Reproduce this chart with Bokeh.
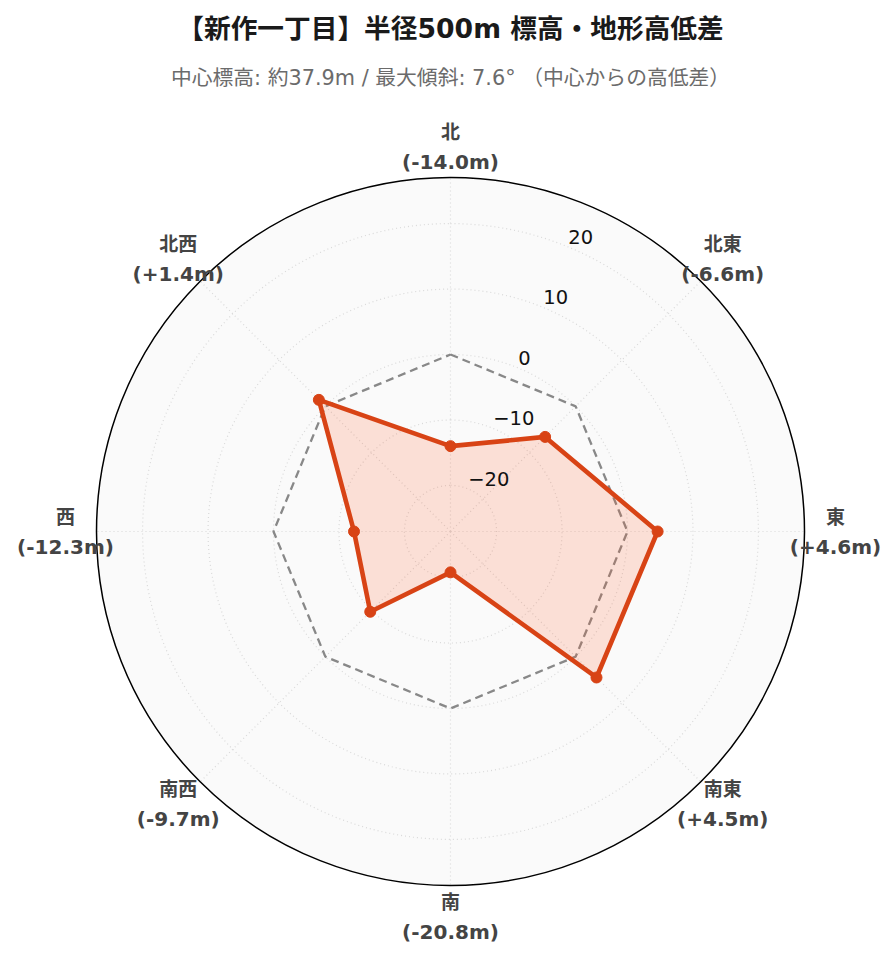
import numpy as np
from bokeh.plotting import figure
from bokeh.models import Range1d
from bokeh.core.properties import value
from bokeh.embed import file_html
from bokeh.resources import INLINE

# ---- data ----
directions = ["北", "北東", "東", "南東", "南", "南西", "西", "北西"]
diffs = [-14.0, -6.6, 4.6, 4.5, -20.8, -9.7, -12.3, 1.4]
radial_ticks = [-20, -10, 0, 10, 20]
reference_level = 0
title_text = "【新作一丁目】半径500m 標高・地形高低差"
subtitle_text = "中心標高: 約37.9m / 最大傾斜: 7.6° （中心からの高低差）"

# ---- layout (pixel-like data units centred on polar origin) ----
W, H = 890, 956
CX, CY = 450, 531          # polar centre relative to figure top-left
R = 354                    # outer radius
rmax = 1.3 * max(abs(d) for d in diffs)
rmin = -rmax

def rad(v):
    return (np.asarray(v, dtype=float) - rmin) / (rmax - rmin) * R

angles = np.deg2rad(np.arange(len(directions)) * 360.0 / len(directions))

p = figure(width=W, height=H, output_backend="svg", toolbar_location=None,
           x_range=Range1d(-CX, W - CX), y_range=Range1d(-(H - CY), CY),
           min_border=0, background_fill_color="white", border_fill_color="white")
p.axis.visible = False
p.grid.visible = False
p.outline_line_color = None

FONT = value("DejaVu Sans, Noto Sans CJK JP")

# polar background
p.circle(x=[0], y=[0], radius=R, fill_color="#fafafa", line_color=None)

# radial grid circles
t = np.linspace(0, 2 * np.pi, 361)
for v in radial_ticks:
    rr = rad(v)
    p.line(x=rr * np.sin(t), y=rr * np.cos(t), line_color="#d9d9d9",
           line_width=1.2, line_dash="1 3")
# angular grid lines
for a in angles:
    p.line(x=[0, R * np.sin(a)], y=[0, R * np.cos(a)], line_color="#d9d9d9",
           line_width=1.2, line_dash="1 3")

# outer circle
p.circle(x=[0], y=[0], radius=R, fill_color=None, line_color="black", line_width=1.5)

# reference (0 m) octagon
rr0 = rad([reference_level] * (len(directions) + 1))
aa = np.append(angles, angles[0])
p.line(x=rr0 * np.sin(aa), y=rr0 * np.cos(aa), line_color="#888888",
       line_width=2.3, line_dash="8 5")

# data polygon
rd = rad(diffs)
xs = rd * np.sin(angles)
ys = rd * np.cos(angles)
p.patch(x=list(xs), y=list(ys), fill_color="#ff5722", fill_alpha=0.17, line_color=None)
p.line(x=list(np.append(xs, xs[0])), y=list(np.append(ys, ys[0])),
       line_color="#d84315", line_width=4.6, line_join="round")
p.scatter(x=list(xs), y=list(ys), size=11, fill_color="#d84315", line_color="#d84315")

# radial tick labels along 22.5°
ta = np.deg2rad(22.5)
rt = rad(radial_ticks)
p.text(x=list(rt * np.sin(ta)), y=list(rt * np.cos(ta)),
       text=[("−" + str(abs(v))) if v < 0 else str(v) for v in radial_ticks],
       text_font=value("DejaVu Sans"), text_font_size="19.5px", text_color="#111111",
       text_align="left", text_baseline="middle", y_offset=-10, x_offset=0)

# angular labels (two lines: direction / difference)
LR = 385
vals = [f"({v:+.1f}m)" if v > 0 else f"({v:.1f}m)" for v in diffs]
lx = list(LR * np.sin(angles))
ly = list(LR * np.cos(angles))
p.text(x=lx, y=ly, text=directions, text_font=FONT, text_font_size="19px",
       text_font_style="bold", text_color="#444444", text_align="center",
       text_baseline="middle", y_offset=-15)
p.text(x=lx, y=ly, text=vals, text_font=FONT, text_font_size="20px",
       text_font_style="bold", text_color="#444444", text_align="center",
       text_baseline="middle", y_offset=15)

# titles
p.text(x=[0], y=[CY - 28], text=[title_text], text_font=FONT,
       text_font_size="26.7px", text_font_style="bold", text_color="#1a1a1a",
       text_align="center", text_baseline="middle")
p.text(x=[0], y=[CY - 77], text=[subtitle_text], text_font=FONT,
       text_font_size="20.8px", text_color="#6b6b6b",
       text_align="center", text_baseline="middle")

open("out.html", "w").write(file_html(p, INLINE))
